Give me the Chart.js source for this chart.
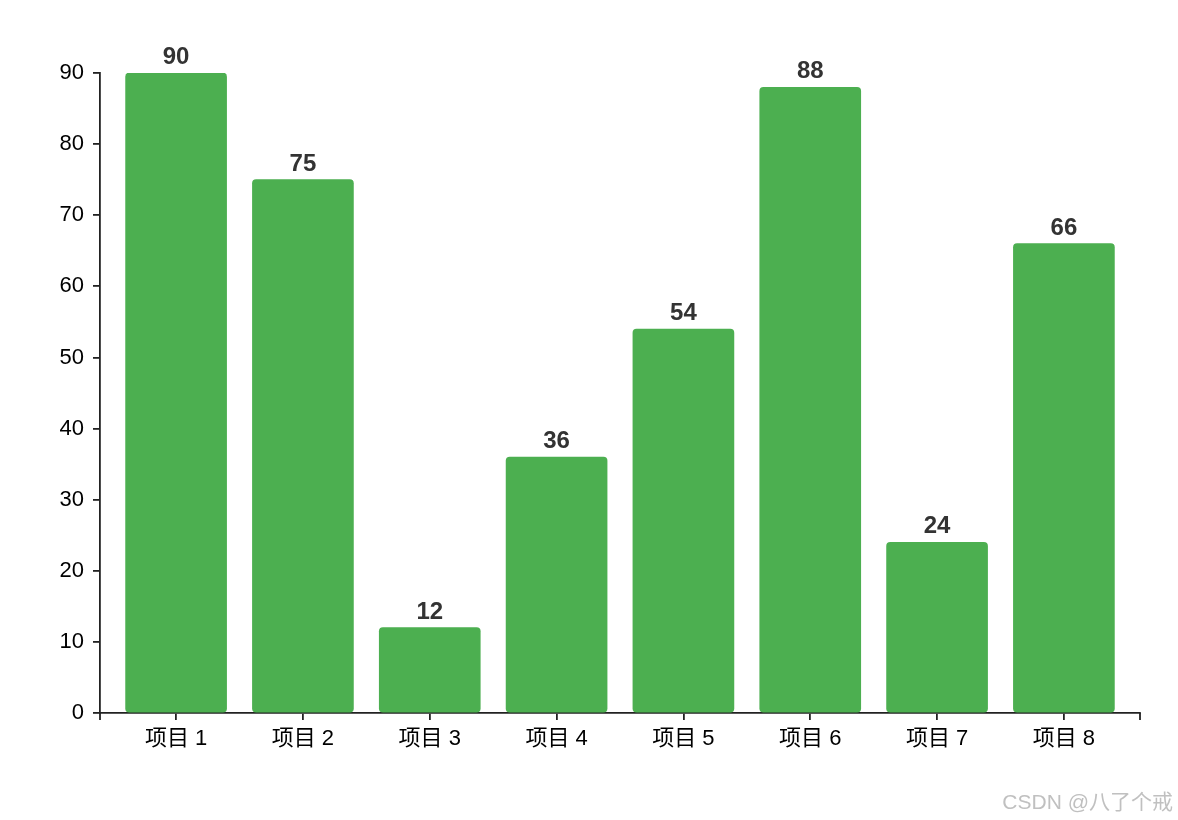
<!DOCTYPE html>
<html>
<head>
<meta charset="utf-8">
<script src="https://cdn.jsdelivr.net/npm/chart.js@4/dist/chart.umd.min.js"></script>
<style>
  html, body { margin: 0; padding: 0; background: #fff; }
  #wrap { position: relative; width: 1178px; height: 820px; }
  #mark {
    position: absolute; right: 5px; top: 785px;
    font: 21px "Liberation Sans", "Noto Sans CJK SC", sans-serif;
    color: #c0c0c0;
  }
</style>
</head>
<body>
<div id="wrap">
  <canvas id="chart" width="1178" height="820"></canvas>
  <div id="mark">CSDN @八了个戒</div>
</div>
<script>
// 数据
const categories = ["项目 1", "项目 2", "项目 3", "项目 4", "项目 5", "项目 6", "项目 7", "项目 8"];
const values = [90, 75, 12, 36, 54, 88, 24, 66];
const yTicks = [0, 10, 20, 30, 40, 50, 60, 70, 80, 90];

const font = '"Liberation Sans", "Noto Sans CJK SC", sans-serif';

// 柱子上方的数值
const valueLabels = {
  id: "valueLabels",
  afterDatasetsDraw(chart) {
    const ctx = chart.ctx;
    const meta = chart.getDatasetMeta(0);
    ctx.save();
    ctx.font = "bold 24px " + font;
    ctx.fillStyle = "#333";
    ctx.textAlign = "center";
    ctx.textBaseline = "alphabetic";
    meta.data.forEach((bar, i) => {
      ctx.fillText(values[i], bar.x, bar.y - 9);
    });
    ctx.restore();
  }
};

// x 轴两端的外侧刻度
const outerTicks = {
  id: "outerTicks",
  afterDraw(chart) {
    const { ctx, chartArea } = chart;
    ctx.save();
    ctx.strokeStyle = "#222";
    ctx.lineWidth = 1.8;
    [chartArea.left, chartArea.right].forEach(x => {
      ctx.beginPath();
      ctx.moveTo(x, chartArea.bottom);
      ctx.lineTo(x, chartArea.bottom + 7);
      ctx.stroke();
    });
    ctx.restore();
  }
};

new Chart(document.getElementById("chart"), {
  type: "bar",
  data: {
    datasets: [{
      data: values.map((v, i) => ({ x: i, y: v })),
      backgroundColor: "#4CAF50",
      borderRadius: 4,
      borderSkipped: false,
      barThickness: 101
    }]
  },
  options: {
    responsive: false,
    animation: false,
    events: [],
    layout: { padding: { top: 73, right: 38, bottom: 0, left: 0 } },
    plugins: { legend: { display: false }, tooltip: { enabled: false } },
    scales: {
      x: {
        type: "linear",
        offset: false,
        min: -0.6,
        max: categories.length - 0.4,
        afterBuildTicks: scale => { scale.ticks = categories.map((c, i) => ({ value: i })); },
        afterFit: scale => { scale.height = 107; },
        ticks: {
          callback: v => categories[v],
          color: "#000",
          font: { family: font, size: 22 },
          padding: 6,
          maxRotation: 0,
          autoSkip: false
        },
        grid: { offset: false, drawOnChartArea: false, tickLength: 7, color: "#222", lineWidth: 1.8 },
        border: { color: "#222", width: 1.8 }
      },
      y: {
        min: 0,
        max: 90,
        afterBuildTicks: scale => { scale.ticks = yTicks.map(v => ({ value: v })); },
        afterFit: scale => { scale.width = 100; },
        ticks: {
          color: "#000",
          font: { family: font, size: 22 },
          padding: 9
        },
        grid: { drawOnChartArea: false, tickLength: 7, color: "#222", lineWidth: 1.8 },
        border: { color: "#222", width: 1.8 }
      }
    }
  },
  plugins: [valueLabels, outerTicks]
});
</script>
</body>
</html>
